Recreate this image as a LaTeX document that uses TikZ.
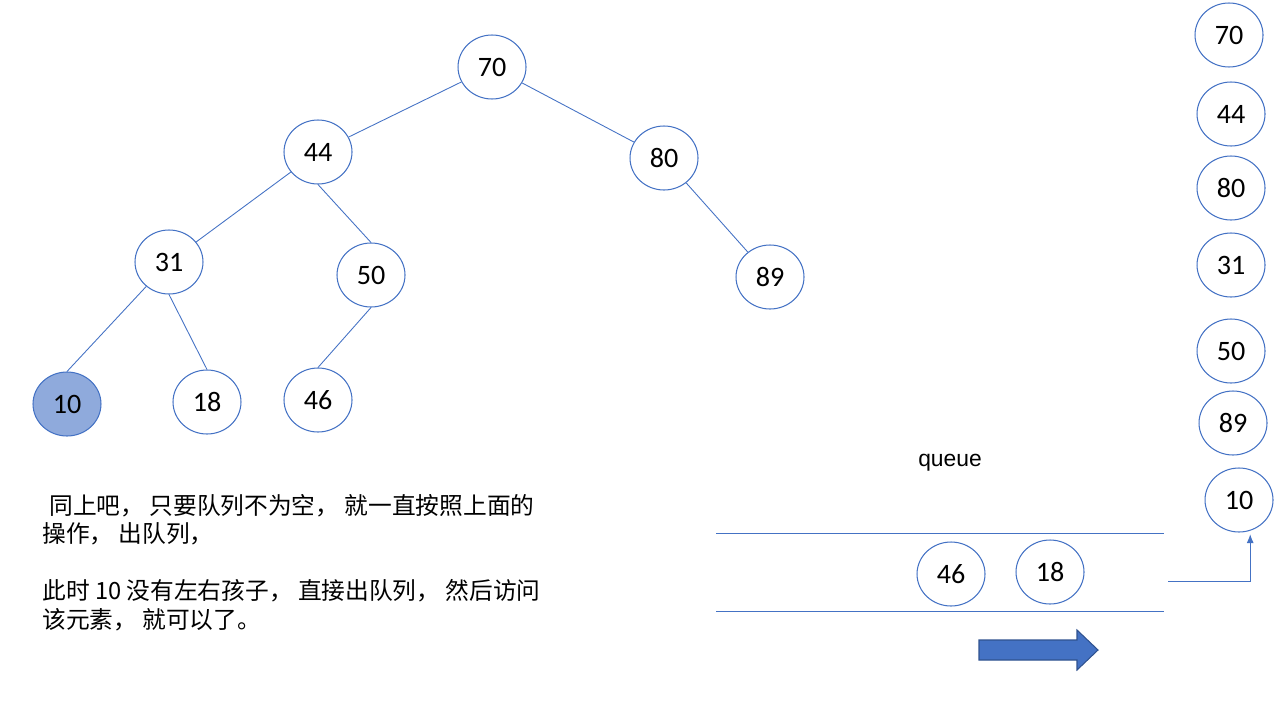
\documentclass[tikz,border=0pt]{standalone}
\usepackage{fontspec}
\setmainfont{Carlito}
\newfontfamily\cjk{Noto Sans CJK SC}
\newfontfamily\labelfont{Liberation Sans}
\usetikzlibrary{shapes.geometric,arrows.meta}
\definecolor{keyblue}{HTML}{4472C4}
\definecolor{keyfill}{HTML}{8FAADC}
\definecolor{arrowedge}{HTML}{2F528F}

\begin{document}
\begin{tikzpicture}[x=0.02cm,y=-0.02cm,
  key/.style={ellipse,draw=keyblue,line width=0.6pt,minimum width=1.36cm,minimum height=1.28cm,inner sep=0pt,font=\fontsize{16}{19}\selectfont},
  link/.style={draw=keyblue,line width=0.5pt}]
\useasboundingbox (0,0) rectangle (1280,720);
% tree
\node[key] (t70) at (492,67) {70};
\node[key] (t44) at (318,152) {44};
\node[key] (t80) at (664,158) {80};
\node[key] (t31) at (169,262) {31};
\node[key] (t50) at (371,275) {50};
\node[key] (t89) at (770,277) {89};
\node[key,fill=keyfill] (t10) at (67,404) {10};
\node[key] (t18) at (207,402) {18};
\node[key] (t46) at (318,400) {46};
\draw[link] (t70) -- (t44);
\draw[link] (t70) -- (t80);
\draw[link] (t44) -- (t31);
\draw[link] (t44.south) -- (t50.north);
\draw[link] (t80) -- (t89);
\draw[link] (t31) -- (t10.north);
\draw[link] (t31.south) -- (t18.north);
\draw[link] (t50.south) -- (t46.north);
% visited order
\node[key] (v70) at (1229,35) {70};
\node[key] (v44) at (1231,114) {44};
\node[key] (v80) at (1231,188) {80};
\node[key] (v31) at (1231,265) {31};
\node[key] (v50) at (1231,351) {50};
\node[key] (v89) at (1233,423) {89};
\node[key] (v10) at (1239,500) {10};
% queue
\node at (950,463) [font=\labelfont\fontsize{13}{15}\selectfont] (qlabel) {queue};
\draw[link] (716,533) -- (1164,533);
\draw[link] (716,611) -- (1164,611);
\node[key] (q46) at (951,574) {46};
\node[key] (q18) at (1050,572) {18};
\coordinate (qout) at (1168,581);
\draw[link,-{Latex[length=5pt,width=4pt]},shorten >=2pt] (qout) -| (v10.-70);
% direction
\draw[fill=keyblue,draw=arrowedge,line width=0.6pt] (979,640) -- (1077,640) -- (1077,630) -- (1098,650) -- (1077,670) -- (1077,660) -- (979,660) -- cycle;
% note
\node[anchor=north west,inner sep=0pt,align=left,font=\cjk\fontsize{13.5}{16.2}\selectfont] (note) at (42,494)
  {\hspace{0.3em}同上吧， 只要队列不为空， 就一直按照上面的\\
   操作， 出队列，\\[16.2pt]
   此时 10 没有左右孩子， 直接出队列， 然后访问\\
   该元素， 就可以了。};
\end{tikzpicture}
\end{document}
